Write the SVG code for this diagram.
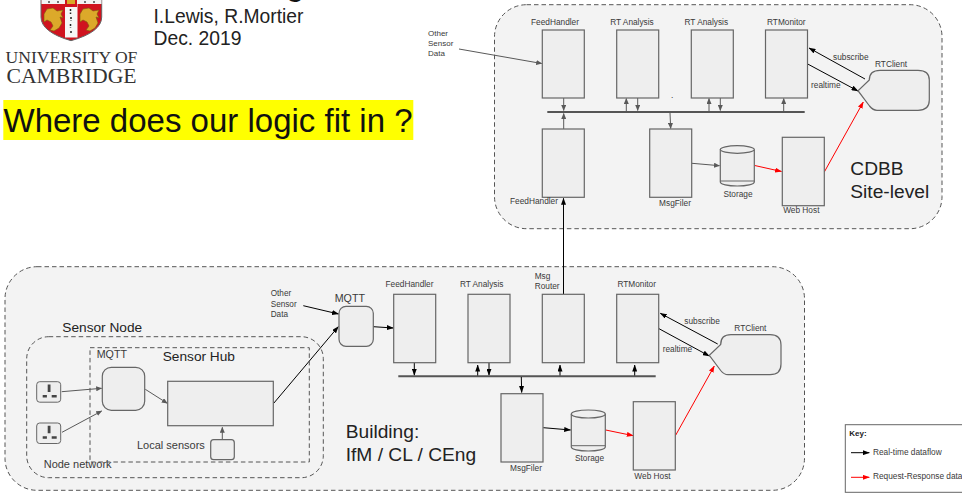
<svg xmlns="http://www.w3.org/2000/svg" width="962" height="497" viewBox="0 0 962 497">
<style>
text{font-family:"Liberation Sans",Arial,sans-serif;fill:#3a3a3a}
.l{font-size:8.300px}.big{font-size:19.200px;fill:#222}.m{font-size:10.700px}.h{font-size:13.700px;fill:#222}.t{font-size:11px}
.a{font-size:19.300px;fill:#222}
.serif{font-family:"Liberation Serif",serif;fill:#333}
.mid{text-anchor:middle}
.zone{fill:#f3f3f3;stroke:#555;stroke-width:1;stroke-dasharray:4.500 3}
.zn{fill:none;stroke:#555;stroke-width:1;stroke-dasharray:4.500 3}
.box{fill:#eee;stroke:#666;stroke-width:1.200}
.bus{stroke:#555;stroke-width:2;fill:none}
.g,.k,.r{fill:none;stroke-width:1}
.g{stroke:#595959;marker-end:url(#ag)}.k{stroke:#000;marker-end:url(#ak)}.r{stroke:#f00;marker-end:url(#ar)}
</style>
<defs>
<marker id="ag" markerWidth="6" markerHeight="5" refX="5.500" refY="2.500" orient="auto" markerUnits="userSpaceOnUse"><path d="M0 0L6 2.500L0 5z" fill="#595959"/></marker>
<marker id="ak" markerWidth="7" markerHeight="5" refX="6.500" refY="2.500" orient="auto" markerUnits="userSpaceOnUse"><path d="M0 0L7 2.500L0 5z" fill="#000"/></marker>
<marker id="ar" markerWidth="7" markerHeight="5" refX="6.500" refY="2.500" orient="auto" markerUnits="userSpaceOnUse"><path d="M0 0L7 2.500L0 5z" fill="#f00"/></marker>
<g id="plug"><rect width="24" height="20.500" rx="3" fill="#eee" stroke="#666" stroke-width="1"/><path d="M11 2.700h2.800v7.500H11zM6 13.300h4.200v2.400H6zM15 13.300h5v2.400h-5z" fill="#444"/></g>
<g id="lion"><path d="M0 6L3 1L9 0L13 3L19 2L17 6L19 10L16 9L18 15L15 20L10 23L6 22L9 18L7 14L3 12L0 14z" fill="#dca92a" stroke="#7a5a10" stroke-width=".600"/></g>
</defs>
<g id="logo">
<path d="M41 0H101.700V17Q101.700 32 71 40.700Q41 32 41 17Z" fill="#d0131f" stroke="#666" stroke-width="1"/>
<rect x="41.500" y="0" width="60" height="4" fill="#f2f2f2"/>
<rect x="65" y="4" width="12.500" height="33.500" fill="#f6f6f6"/>
<rect x="65" y="0" width="12" height="7" fill="#d0131f"/>
<rect x="67" y="0" width="8" height="4" fill="#d9a928"/>
<path d="M70.500 9v5M71 17v4M70.500 24v4M71 31v3" stroke="#222" stroke-width="1.500" stroke-dasharray="2 1.500"/>
<path d="M49 1v2M58 1v2M85 1v2M94 1v2" stroke="#222" stroke-width="1.200"/>
<use href="#lion" x="44" y="8"/><use href="#lion" x="80" y="8"/>
<text x="71.500" y="63.300" class="serif mid" style="font-size:17.600px">UNIVERSITY OF</text>
<text x="71.500" y="82.700" class="serif mid" style="font-size:21.700px">CAMBRIDGE</text>
</g>
<text id="title-cut" x="286" y="-5" style="font-size:33px;fill:#111">g</text>
<g id="authors"><text x="153.500" y="22.500" class="a">I.Lewis, R.Mortier</text><text x="153.500" y="45" class="a">Dec. 2019</text></g>
<g id="question"><rect x="3.300" y="100" width="410" height="40" fill="#ff0"/><text x="3.500" y="131.500" style="font-size:33px;fill:#111">Where does our logic fit in ?</text></g>
<g id="zones">
<rect id="cdbb" class="zone" x="494.500" y="4.700" width="447.500" height="224" rx="32"/>
<rect id="building" class="zone" x="5" y="266.700" width="799.500" height="223.600" rx="32"/>
</g>
<g id="connectors">
<path class="g" d="M459 49L541.700 63.500"/>
<path class="g" d="M563.700 98V110.500"/><path class="g" d="M563.700 129V113.500"/>
<path class="g" d="M626.300 111V98.500"/><path class="g" d="M637.700 98V110.500"/>
<path class="g" d="M670 113L670.700 128.500"/>
<path class="g" d="M709 111V98.500"/><path class="g" d="M720.300 98V110.500"/>
<path class="g" d="M783.700 111V98.500"/>
<path class="bus" d="M547.300 112H804.700"/>
<path class="k" d="M865 79L809 48"/><path class="k" d="M807.700 64L858 91"/>
<path class="g" d="M692 163.300L719.500 165.700"/><path class="r" d="M754.700 165.500L781.500 171.500"/><path class="r" d="M824.300 172L863.300 102"/>
<path class="k" d="M563.500 294V198.300"/>
<path class="g" d="M61.700 391.700L101.700 388.300"/><path class="g" d="M62 432.300L101.700 411"/>
<path class="g" d="M145.300 389.300L167.300 403.300"/><path class="g" d="M222.300 439.700V427.300"/>
<path class="k" d="M273.700 403.300L338.300 326.700"/><path class="k" d="M303.300 305.700L338.500 314"/>
<path class="k" d="M373.300 326.700L393.300 328"/>
<path class="k" d="M414.300 362.700V375.300"/><path class="k" d="M477.700 376V365"/><path class="k" d="M489 362.700V375.300"/>
<path class="k" d="M560 376V365"/><path class="k" d="M634.700 376V365"/>
<path class="bus" d="M398.300 376.300H655.700"/>
<path class="k" d="M521.300 377L521.700 392.500"/>
<path class="k" d="M543.300 427.700L570.700 430"/><path class="r" d="M605.700 430L633.300 435.700"/><path class="r" d="M675.500 435.500L714.300 366"/>
<path class="k" d="M717.700 344L660.300 313.300"/><path class="k" d="M659 328.700L709.300 356"/>
</g>
<g id="n-feed-top"><rect class="box" x="542.300" y="30" width="42" height="68"/><text class="l mid" x="555" y="25">FeedHandler</text></g>
<g id="n-rta1-top"><rect class="box" x="616.700" y="30" width="42" height="68"/><text class="l mid" x="632" y="25">RT Analysis</text></g>
<g id="n-rta2-top"><rect class="box" x="691.300" y="30" width="42" height="68"/><text class="l mid" x="706.300" y="25">RT Analysis</text></g>
<g id="n-mon-top"><rect class="box" x="765.500" y="30" width="42" height="68"/><text class="l mid" x="786.300" y="25">RTMonitor</text></g>
<g id="n-feed2-top"><rect class="box" x="542.300" y="129" width="42" height="68.300"/><text class="l mid" x="534" y="204">FeedHandler</text></g>
<g id="n-filer-top"><rect class="box" x="649.700" y="129" width="42" height="68.300"/><text class="l mid" x="675" y="206">MsgFiler</text></g>
<g id="n-storage-top"><path class="box" d="M720.300 149.500V182a17 4 0 0 0 34 0V149.500"/><ellipse class="box" cx="737.300" cy="149.500" rx="17" ry="3.800"/><path d="M720.300 181H754.300" fill="none" stroke="#666"/><text class="l mid" x="738" y="196.700">Storage</text></g>
<g id="n-web-top"><rect class="box" x="782.300" y="137.300" width="42" height="68.400"/><text class="l mid" x="801.300" y="213">Web Host</text></g>
<g id="n-client-top"><path class="box" d="M880 70.300H918Q929.300 70.300 929.300 80V100Q929.300 110.300 918 110.300H877Q873 110.300 869.500 106L858 90.700L869.300 80Q869.300 70.300 880 70.300Z"/><text class="l" x="875" y="66.700">RTClient</text></g>
<g id="t-top"><text style="font-size:8px" x="428" y="36">Other</text><text style="font-size:8px" x="428" y="45.700">Sensor</text><text style="font-size:8px" x="428" y="55.700">Data</text>
<text class="l" x="671" y="98">.</text>
<text class="l" x="833" y="59.500">subscribe</text><text class="l" x="811" y="88">realtime</text>
<text class="big" x="850.300" y="175">CDBB</text><text class="big" x="850.300" y="198">Site-level</text></g>
<g id="n-sensor-node"><rect class="zn" x="26.700" y="336.700" width="296.600" height="141" rx="22"/><text x="62.300" y="331.700" class="h">Sensor Node</text><text x="43.700" y="467.700" class="t">Node network</text></g>
<g id="n-hub"><rect class="zn" x="90" y="347.700" width="219.300" height="114.300"/><text x="96.700" y="358.300" class="m">MQTT</text><text x="162.700" y="361" class="h">Sensor Hub</text></g>
<use id="plug1" href="#plug" x="36.700" y="381.700"/><use id="plug2" href="#plug" x="36.700" y="423"/>
<g id="n-mqtt-hub"><rect class="box" x="102.300" y="367.300" width="42.400" height="43" rx="9"/></g>
<g id="n-hub-box"><rect class="box" x="167.700" y="381.300" width="105.600" height="44.400"/></g>
<g id="n-local"><rect class="box" x="210.700" y="439.700" width="23.600" height="20" rx="3"/><text x="137" y="449" class="t">Local sensors</text></g>
<g id="t-other"><text style="font-size:8.200px" x="270.700" y="295.700">Other</text><text style="font-size:8.200px" x="270.700" y="306.700">Sensor</text><text style="font-size:8.200px" x="270.700" y="316.700">Data</text></g>
<g id="n-mqtt"><rect class="box" x="339" y="306.300" width="34.300" height="40" rx="7"/><text x="334.700" y="302.300" class="m">MQTT</text></g>
<g id="n-feed"><rect class="box" x="393.700" y="294.300" width="42" height="68.400"/><text class="l mid" x="409.500" y="286.700">FeedHandler</text></g>
<g id="n-rta"><rect class="box" x="468" y="294.300" width="42" height="68.400"/><text class="l mid" x="481.700" y="286.700">RT Analysis</text></g>
<g id="n-router"><rect class="box" x="542.300" y="294.300" width="42" height="68.400"/><text class="l" x="534.700" y="279">Msg</text><text class="l" x="534.700" y="289">Router</text></g>
<g id="n-mon"><rect class="box" x="616.700" y="294.300" width="42" height="68.400"/><text class="l mid" x="636.700" y="286.700">RTMonitor</text></g>
<g id="n-filer"><rect class="box" x="501" y="393.700" width="42" height="68.300"/><text class="l mid" x="526" y="470.700">MsgFiler</text></g>
<g id="n-storage"><path class="box" d="M571.300 414V447a17 4 0 0 0 34 0V414"/><ellipse class="box" cx="588.300" cy="414" rx="17" ry="4"/><path d="M571.300 445.700H605.300" fill="none" stroke="#666"/><text class="l" x="575" y="460.700">Storage</text></g>
<g id="n-web"><rect class="box" x="633.300" y="401.700" width="42" height="68.300"/><text class="l mid" x="652.500" y="478.700">Web Host</text></g>
<g id="n-client"><path class="box" d="M731 334.700H770Q781 334.700 781 345V364Q781 374.700 770 374.700H728Q724 374.700 720.700 370.500L709.300 355.300L720.700 344.500Q720.700 334.700 731 334.700Z"/><text class="l" x="734.300" y="330.700">RTClient</text></g>
<g id="t-bottom"><text class="l" x="684.300" y="323.700">subscribe</text><text class="l" x="662.700" y="352.300">realtime</text>
<text class="big" x="345.700" y="438.300">Building:</text><text class="big" x="345.700" y="461">IfM / CL / CEng</text></g>
<g id="key"><rect x="845.300" y="424.700" width="130" height="67.600" fill="#fff" stroke="#666"/><text x="849.300" y="435.700" style="font-size:8px;font-weight:bold;fill:#222">Key:</text>
<path class="k" d="M851 452.700H869.300"/><path class="r" d="M851 477.300H869.300"/>
<text class="l" x="873" y="454.700">Real-time dataflow</text><text class="l" x="873" y="478.700">Request-Response data</text></g>
</svg>
